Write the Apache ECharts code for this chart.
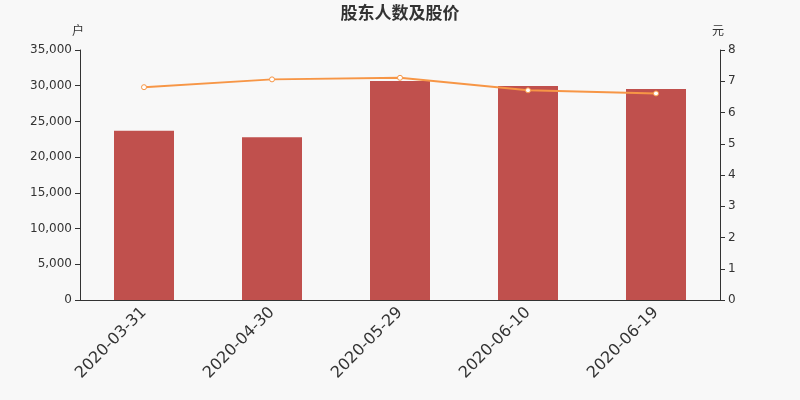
<!DOCTYPE html>
<html><head><meta charset="utf-8">
<script src="https://cdn.jsdelivr.net/npm/echarts@6/dist/echarts.min.js"></script>
<style>html,body{margin:0;padding:0;background:#f8f8f8}#c{width:800px;height:400px}</style>
</head><body><div id="c"></div>
<script>
const categories = ['2020-03-31','2020-04-30','2020-05-29','2020-06-10','2020-06-19'];
const holders = [23700, 22800, 30650, 29950, 29550];
const prices = [6.81, 7.06, 7.11, 6.71, 6.61];
const chart = echarts.init(document.getElementById('c'));
const font = '"DejaVu Sans", "Noto Sans CJK SC", sans-serif';
chart.setOption({
  backgroundColor: '#f8f8f8',
  animation: false,
  textStyle: {fontFamily: font},
  title: {text: '股东人数及股价', left: 'center', top: 1, textStyle: {fontSize: 17, fontWeight: 'bold', color: '#333', fontFamily: font}},
  grid: {left: 80, right: 80, top: 50, bottom: 100},
  xAxis: {type: 'category', data: categories,
    axisLine: {lineStyle: {color: '#333'}}, axisTick: {lineStyle: {color: '#333'}},
    axisLabel: {rotate: 45, fontSize: 16, color: '#333', margin: 10, fontFamily: font}},
  yAxis: [
    {type: 'value', name: '户', min: 0, max: 35000, interval: 5000, nameGap: 12,
     nameTextStyle: {color: '#333', fontSize: 12, fontFamily: font, padding: [0, 0, 0, -4]},
     axisLine: {show: true, lineStyle: {color: '#333'}}, axisTick: {show: true},
     splitLine: {show: false}, axisLabel: {color: '#333', fontSize: 12, fontFamily: font}},
    {type: 'value', name: '元', min: 0, max: 8, interval: 1, nameGap: 12,
     nameTextStyle: {color: '#333', fontSize: 12, fontFamily: font, padding: [0, 0, 0, -4]},
     axisLine: {show: true, lineStyle: {color: '#333'}}, axisTick: {show: true},
     splitLine: {show: false}, axisLabel: {color: '#333', fontSize: 12, fontFamily: font}}
  ],
  series: [
    {type: 'bar', data: holders, barWidth: 60, itemStyle: {color: '#c0504d'}},
    {type: 'line', yAxisIndex: 1, data: prices, symbol: 'circle', symbolSize: 5,
     lineStyle: {color: '#f79646', width: 2}, itemStyle: {color: '#fff', borderColor: '#f79646', borderWidth: 1}}
  ]
});
</script></body></html>
